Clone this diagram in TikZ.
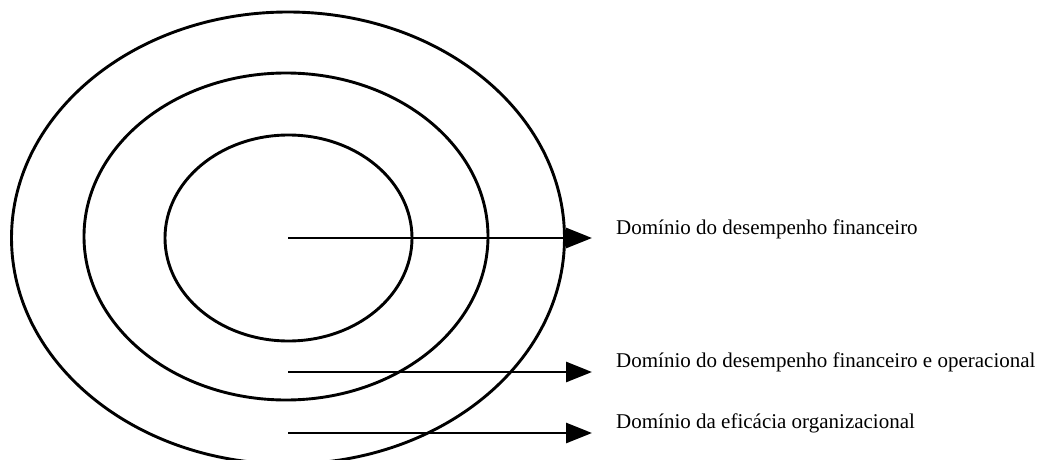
\documentclass[tikz,border=0pt]{standalone}
\usepackage{fontspec}
\setmainfont{Liberation Serif}
\usetikzlibrary{positioning,arrows.meta,shapes.geometric}

\begin{document}
\begin{tikzpicture}[
x=1pt, y=-1pt,
ring/.style={
draw,
ellipse,
line width=2.9pt,
inner sep=0pt,
outer sep=0pt
},
domlabel/.style={
anchor=base west,
inner sep=0pt,
font=\fontsize{21}{25}\selectfont
},
>={Triangle[length=26pt,width=20pt]}
]
\useasboundingbox (0,0) rectangle (1042,460);

% concentric rings
\node[ring, minimum width=553pt, minimum height=452pt] (outer) at (288,238) {};
\node[ring, minimum width=404pt, minimum height=327pt] (middle) at (286,236.5) {};
\node[ring, minimum width=247pt, minimum height=206pt] (inner) at (288.5,238) {};

% labels
\node[domlabel] (fin) at (616,234) {Domínio do desempenho financeiro};
\node[domlabel] (finop) at (616,367) {Domínio do desempenho financeiro e operacional};
\node[domlabel] (org) at (616,428) {Domínio da eficácia organizacional};

% arrow starts
\coordinate (s1) at (288,238);
\coordinate (s2) at (288,372);
\coordinate (s3) at (288,433);

\draw[->,line width=2.9pt] (s1) -- ([xshift=-24pt]s1 -| fin.west);
\draw[->,line width=2.9pt] (s2) -- ([xshift=-24pt]s2 -| finop.west);
\draw[->,line width=2.9pt] (s3) -- ([xshift=-24pt]s3 -| org.west);

\end{tikzpicture}
\end{document}
